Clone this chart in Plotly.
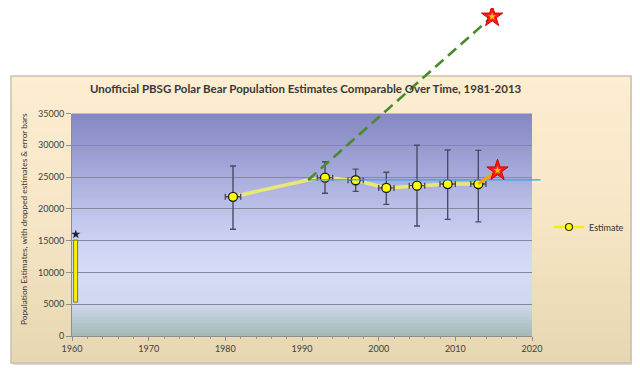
import plotly.graph_objects as go

# ---------------- data ----------------
YEARS = [1981, 1993, 1997, 2001, 2005, 2009, 2013]
ESTIMATE = [21900, 24900, 24500, 23300, 23650, 23900, 23900]
UPPER = [26750, 27400, 26250, 25750, 30000, 29250, 29200]
LOWER = [16800, 22450, 22750, 20700, 17300, 18350, 17950]
YEAR_ERR = 1

# yellow connector as drawn (includes bend where the dashed line starts)
LINE_YEARS = [1981, 1990.8, 1993, 1997, 2001, 2005, 2009, 2013]
LINE_VALUES = [21900, 24550, 24900, 24500, 23300, 23650, 23900, 23900]

# horizontal reference level
REF_YEARS = [1990.8, 2021.1]
REF_VALUES = [24550, 24550]

# dashed projection line and its star
PROJ_YEARS = [1990.8, 2014.8]
PROJ_VALUES = [24550, 50250]

# orange segment to the new star
NEW_YEARS = [2013, 2015.5]
NEW_VALUES = [23900, 26050]

STAR_YEARS = [2015.5, 2014.8]
STAR_VALUES = [26050, 50250]

# dropped estimate bar (1960s)
DROP_YEAR = [1960.5]
DROP_LOW = [5200]
DROP_HIGH = [15000]
DROP_MARK = [16000]

X_TICKS = [1960, 1970, 1980, 1990, 2000, 2010, 2020]
Y_TICKS = [0, 5000, 10000, 15000, 20000, 25000, 30000, 35000]

TITLE = "Unofficial PBSG Polar Bear Population Estimates Comparable Over Time, 1981-2013"
Y_TITLE = "Population Estimates, with dropped estimates & error bars"

# ---------------- layout geometry (window pixels) ----------------
OFF = 8                      # default page body margin
WIN_W, WIN_H = 640, 368
W, H = WIN_W - OFF, WIN_H - OFF   # figure size


def px(xw):
    return (xw - OFF) / W


def py(yw):
    return 1 - (yw - OFF) / H


PL, PR, PT, PB = 72, 532, 113.5, 336
XMIN, XMAX = 1960, 2020
YMIN, YMAX = 0, 35000
ppx = (PR - PL) / (XMAX - XMIN)
ppy = (PB - PT) / (YMAX - YMIN)
X2_RANGE = [XMIN - (PL - OFF) / ppx, XMAX + (WIN_W - PR) / ppx]
Y2_RANGE = [YMIN - (WIN_H - PB) / ppy, YMAX + (PT - OFF) / ppy]

FONT = "Lato, 'Open Sans', sans-serif"


def hex2rgb(h):
    h = h.lstrip('#')
    return tuple(int(h[i:i + 2], 16) for i in (0, 2, 4))


def interp(stops, v):
    for (v0, c0), (v1, c1) in zip(stops, stops[1:]):
        if v0 <= v <= v1:
            t = (v - v0) / (v1 - v0) if v1 > v0 else 0
            a, b = hex2rgb(c0), hex2rgb(c1)
            return 'rgb(%d,%d,%d)' % tuple(round(a[i] + (b[i] - a[i]) * t) for i in range(3))
    return stops[-1][1]


shapes = []

# shadow + beige chart area gradient (paper coords)
BX0, BX1, BY0, BY1 = 11, 631, 76, 363
shapes.append(dict(type='rect', xref='paper', yref='paper', layer='below',
                   x0=px(BX0 + 2), x1=px(BX1 + 2), y0=py(BY1 + 2), y1=py(BY0 + 2),
                   fillcolor='#dcdcdc', line=dict(width=0)))
beige_stops = [(0, '#fdedd1'), (0.5, '#f7e6c6'), (1, '#e6d6b0')]
N = 40
for i in range(N):
    t0, t1 = i / N, (i + 1) / N
    y_top = BY0 + (BY1 - BY0) * t0
    y_bot = BY0 + (BY1 - BY0) * t1
    shapes.append(dict(type='rect', xref='paper', yref='paper', layer='below',
                       x0=px(BX0), x1=px(BX1), y0=py(y_bot + 1), y1=py(y_top),
                       fillcolor=interp(beige_stops, (t0 + t1) / 2), line=dict(width=0)))
shapes.append(dict(type='rect', xref='paper', yref='paper', layer='below',
                   x0=px(BX0), x1=px(BX1), y0=py(BY1), y1=py(BY0),
                   fillcolor='rgba(0,0,0,0)', line=dict(color='#c9c2b2', width=1.5)))

# plot-area gradient (data coords, below gridlines)
plot_stops = [(0, '#a3b9b4'), (2500, '#bac9d2'), (5000, '#cfd8ef'), (10000, '#d5dcf7'),
              (15000, '#cdd3f3'), (20000, '#bcc1e8'), (25000, '#a9addc'),
              (30000, '#9699cf'), (35000, '#8588c2')]
STEP = 500
v = 0
while v < YMAX:
    shapes.append(dict(type='rect', xref='x', yref='y', layer='below',
                       x0=XMIN, x1=XMAX, y0=v, y1=v + STEP + 300,
                       fillcolor=interp(plot_stops, v + STEP / 2), line=dict(width=0)))
    v += STEP

fig = go.Figure()

# dropped-estimate bar
fig.add_trace(go.Bar(x=DROP_YEAR, y=[h - l for h, l in zip(DROP_HIGH, DROP_LOW)], base=DROP_LOW,
                     width=0.6, marker=dict(color='#fff000', line=dict(color='#5a5a40', width=0.8)),
                     showlegend=False, hoverinfo='skip'))
fig.add_trace(go.Scatter(x=DROP_YEAR, y=DROP_MARK, mode='markers',
                         marker=dict(symbol='star', size=7, color='#20203a'),
                         showlegend=False, hoverinfo='skip'))

# yellow estimate line
fig.add_trace(go.Scatter(x=LINE_YEARS, y=LINE_VALUES, mode='lines',
                         line=dict(color='#e9e874', width=3.5),
                         showlegend=False, hoverinfo='skip'))

# estimates with error bars
fig.add_trace(go.Scatter(
    x=YEARS, y=ESTIMATE, mode='markers',
    error_y=dict(type='data', symmetric=False,
                 array=[u - e for u, e in zip(UPPER, ESTIMATE)],
                 arrayminus=[e - l for e, l in zip(ESTIMATE, LOWER)],
                 color='#4a4a66', thickness=1.4, width=3),
    error_x=dict(type='constant', value=YEAR_ERR, color='#4a4a66', thickness=1.4, width=3),
    marker=dict(symbol='circle', size=9, color='#ffff00', line=dict(color='#1a1a1a', width=1.3)),
    showlegend=False))

# legend entry
fig.add_trace(go.Scatter(x=[None], y=[None], mode='lines+markers', name='Estimate',
                         line=dict(color='#f2f200', width=2.5),
                         marker=dict(symbol='circle', size=7, color='#ffff00',
                                     line=dict(color='#333300', width=1.2))))

# overlay traces (full-figure axes with identical scale)
fig.add_trace(go.Scatter(x=REF_YEARS, y=REF_VALUES, mode='lines', xaxis='x2', yaxis='y2',
                         line=dict(color='#3d9de0', width=1.3), showlegend=False, hoverinfo='skip'))
fig.add_trace(go.Scatter(x=PROJ_YEARS, y=PROJ_VALUES, mode='lines', xaxis='x2', yaxis='y2',
                         line=dict(color='#4b8a2c', width=2.6, dash='11px,6px'),
                         showlegend=False, hoverinfo='skip'))
fig.add_trace(go.Scatter(x=NEW_YEARS, y=NEW_VALUES, mode='lines', xaxis='x2', yaxis='y2',
                         line=dict(color='#f2a800', width=3.2), showlegend=False, hoverinfo='skip'))
fig.add_trace(go.Scatter(x=STAR_YEARS, y=STAR_VALUES, mode='markers', xaxis='x2', yaxis='y2',
                         marker=dict(symbol='star', size=16, color='#ff1a1a',
                                     line=dict(color='#d00000', width=1)),
                         showlegend=False, hoverinfo='skip'))
fig.add_trace(go.Scatter(x=STAR_YEARS, y=STAR_VALUES, mode='markers', xaxis='x2', yaxis='y2',
                         marker=dict(symbol='star', size=6, color='#ffc400'),
                         showlegend=False, hoverinfo='skip'))

axis_font = dict(family=FONT, size=9, color='#404040')

fig.update_layout(
    width=W, height=H,
    margin=dict(l=0, r=0, t=0, b=0, autoexpand=False),
    paper_bgcolor='white', plot_bgcolor='rgba(0,0,0,0)',
    shapes=shapes,
    bargap=0,
    xaxis=dict(domain=[px(PL), px(PR)], range=[XMIN, XMAX], tickvals=X_TICKS,
               showgrid=False, zeroline=False, showline=True, linecolor='#8d8d8d', linewidth=1,
               ticks='outside', ticklen=4, tickcolor='#8d8d8d', tickfont=axis_font,
               minor=dict(ticks='outside', ticklen=2, dtick=2, tickcolor='#9a9a9a'),
               fixedrange=True, anchor='y', automargin=False),
    yaxis=dict(domain=[py(PB), py(PT)], range=[YMIN, YMAX], tickvals=Y_TICKS,
               tickformat='d', showgrid=True, gridcolor='#86879f', gridwidth=1.2,
               zeroline=False, showline=True, linecolor='#8d8d8d', linewidth=1,
               ticks='outside', ticklen=5, tickcolor='#8d8d8d', tickfont=axis_font,
               fixedrange=True, anchor='x', automargin=False),
    xaxis2=dict(domain=[0, 1], range=X2_RANGE, visible=False, anchor='y2', fixedrange=True,
                automargin=False),
    yaxis2=dict(domain=[0, 1], range=Y2_RANGE, visible=False, anchor='x2', fixedrange=True,
                automargin=False),
    legend=dict(x=px(549), y=py(227), xanchor='left', yanchor='middle',
                bgcolor='rgba(0,0,0,0)', font=dict(family=FONT, size=9, color='#333333')),
    annotations=[
        dict(text='<b>' + TITLE + '</b>', xref='paper', yref='paper', x=px(306), y=py(88),
             showarrow=False, xanchor='center', yanchor='middle',
             font=dict(family=FONT, size=11.5, color='#383838')),
        dict(text=Y_TITLE, xref='paper', yref='paper', x=px(24), y=py(219),
             showarrow=False, textangle=-90, xanchor='center', yanchor='middle',
             font=dict(family=FONT, size=8.3, color='#383838')),
    ],
)

fig.write_html("out.html")
